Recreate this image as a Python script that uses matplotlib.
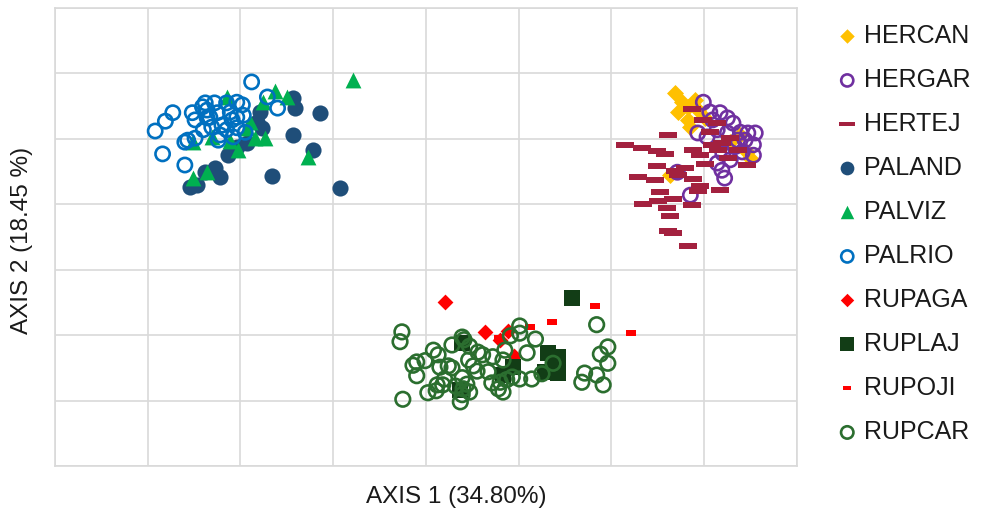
import numpy as np
import matplotlib
matplotlib.use("Agg")
import matplotlib.pyplot as plt
from matplotlib.path import Path

plt.rcParams['font.family'] = ['Liberation Sans', 'DejaVu Sans']

# PCoA coordinates (axis 1, axis 2)
hercan_x = [0.268, 0.276, 0.272, 0.282, 0.285, 0.282, 0.293, 0.301, 0.328, 0.346, 0.349, 0.339, 0.263, 0.290]
hercan_y = [0.170, 0.156, 0.141, 0.149, 0.118, 0.129, 0.144, 0.132, 0.095, 0.080, 0.071, 0.106, 0.045, 0.159]

hergar_x = [0.299, 0.306, 0.317, 0.325, 0.331, 0.293, 0.303, 0.314, 0.325, 0.339, 0.347, 0.355, 0.353,
            0.353, 0.341, 0.333, 0.320, 0.328, 0.314, 0.319, 0.322, 0.271, 0.285, 0.309, 0.344, 0.336]
hergar_y = [0.156, 0.141, 0.140, 0.132, 0.124, 0.109, 0.103, 0.114, 0.109, 0.110, 0.109, 0.109, 0.091,
            0.075, 0.080, 0.088, 0.078, 0.068, 0.063, 0.052, 0.040, 0.049, 0.014, 0.129, 0.098, 0.098]

hertej_x = [0.287, 0.299, 0.314, 0.306, 0.328, 0.261, 0.215, 0.233, 0.249, 0.258, 0.288, 0.295, 0.308,
            0.319, 0.326, 0.346, 0.301, 0.249, 0.268, 0.279, 0.229, 0.247, 0.272, 0.288, 0.295, 0.293,
            0.252, 0.317, 0.234, 0.250, 0.266, 0.260, 0.287, 0.263, 0.261, 0.266, 0.282, 0.315, 0.336]
hertej_y = [0.146, 0.129, 0.124, 0.110, 0.101, 0.106, 0.091, 0.086, 0.081, 0.077, 0.083, 0.075, 0.091,
            0.094, 0.071, 0.060, 0.062, 0.059, 0.051, 0.055, 0.042, 0.037, 0.045, 0.039, 0.028, 0.020,
            0.019, 0.022, 0.000, 0.005, 0.008, -0.006, -0.001, -0.018, -0.041, -0.044, -0.064, 0.083, 0.083]

paland_x = [-0.254, -0.247, -0.238, -0.228, -0.222, -0.213, -0.204, -0.193, -0.182, -0.179, -0.177,
            -0.143, -0.141, -0.114, -0.143, -0.122, -0.166, -0.093]
paland_y = [0.026, 0.029, 0.049, 0.055, 0.042, 0.075, 0.088, 0.094, 0.126, 0.141, 0.117,
            0.162, 0.147, 0.140, 0.106, 0.083, 0.043, 0.025]

palviz_x = [-0.251, -0.236, -0.251, -0.231, -0.211, -0.203, -0.190, -0.193, -0.184, -0.174, -0.215,
            -0.176, -0.163, -0.150, -0.079, -0.127]
palviz_y = [0.040, 0.049, 0.095, 0.103, 0.097, 0.083, 0.126, 0.117, 0.101, 0.101, 0.164,
            0.156, 0.173, 0.164, 0.190, 0.072]

palrio_x = [-0.188, -0.292, -0.281, -0.273, -0.284, -0.260, -0.252, -0.249, -0.238, -0.236, -0.228,
            -0.225, -0.233, -0.215, -0.204, -0.198, -0.211, -0.197, -0.171, -0.160, -0.260, -0.257,
            -0.249, -0.224, -0.222, -0.215, -0.204, -0.195, -0.208, -0.240, -0.231, -0.220, -0.236,
            -0.209, -0.204, -0.241]
palrio_y = [0.187, 0.112, 0.127, 0.140, 0.077, 0.060, 0.140, 0.129, 0.155, 0.144, 0.155,
            0.140, 0.133, 0.155, 0.156, 0.152, 0.141, 0.136, 0.164, 0.147, 0.095, 0.098,
            0.101, 0.098, 0.106, 0.114, 0.117, 0.110, 0.103, 0.114, 0.118, 0.121, 0.132,
            0.129, 0.133, 0.149]

rupaga_x = [0.020, 0.064, 0.088, 0.095, 0.080]
rupaga_y = [-0.149, -0.195, -0.194, -0.232, -0.207]

ruplaj_x = [0.157, 0.039, 0.132, 0.142, 0.128, 0.142, 0.094, 0.083, 0.037, 0.137]
ruplaj_y = [-0.143, -0.212, -0.227, -0.233, -0.256, -0.258, -0.249, -0.261, -0.284, -0.246]

rupoji_x = [0.182, 0.136, 0.112, 0.221, 0.079, 0.089]
rupoji_y = [-0.155, -0.180, -0.187, -0.197, -0.204, -0.195]

rupcar_x = [-0.026, -0.028, -0.010, -0.001, 0.008, 0.013, -0.010, 0.015, 0.028, 0.039, 0.047, 0.056,
            0.046, 0.051, 0.055, 0.039, 0.028, 0.020, 0.012, 0.002, 0.011, 0.018, 0.040, 0.047,
            0.039, 0.037, -0.025, 0.072, 0.083, 0.085, 0.071, 0.078, 0.083, 0.080, 0.087, 0.101,
            0.101, 0.118, 0.109, 0.101, 0.093, 0.114, 0.125, 0.137, 0.184, 0.196, 0.188, 0.196,
            0.171, 0.184, 0.168, 0.191, 0.041, 0.061, 0.024, -0.014, 0.067, 0.032, 0.044, 0.091]
rupcar_y = [-0.195, -0.210, -0.241, -0.239, -0.223, -0.230, -0.262, -0.249, -0.215, -0.203, -0.217, -0.226,
            -0.238, -0.247, -0.255, -0.265, -0.250, -0.267, -0.276, -0.288, -0.285, -0.276, -0.282, -0.287,
            -0.291, -0.302, -0.298, -0.233, -0.238, -0.223, -0.273, -0.282, -0.287, -0.272, -0.268, -0.186,
            -0.197, -0.206, -0.227, -0.267, -0.264, -0.267, -0.259, -0.243, -0.184, -0.218, -0.229, -0.243,
            -0.258, -0.261, -0.272, -0.276, -0.207, -0.230, -0.247, -0.246, -0.256, -0.278, -0.275, -0.201]

# wide bar marker for HERTEJ, short one for RUPOJI
long_bar = Path([(-1, -0.3), (1, -0.3), (1, 0.3), (-1, 0.3), (-1, -0.3)], closed=True)
short_bar = Path([(-1, -0.5), (1, -0.5), (1, 0.5), (-1, 0.5), (-1, -0.5)], closed=True)

series = [
    ("HERCAN", hercan_x, hercan_y, dict(marker="D", s=75, c="#FFC000", linewidths=0)),
    ("HERGAR", hergar_x, hergar_y, dict(marker="o", s=105, facecolors="none", edgecolors="#7030A0", linewidths=1.9)),
    ("HERTEJ", hertej_x, hertej_y, dict(marker=long_bar, s=175, c="#A3213F", linewidths=0)),
    ("PALAND", paland_x, paland_y, dict(marker="o", s=135, c="#1F4E79", linewidths=0)),
    ("PALVIZ", palviz_x, palviz_y, dict(marker="^", s=130, c="#00B050", linewidths=0)),
    ("PALRIO", palrio_x, palrio_y, dict(marker="o", s=105, facecolors="none", edgecolors="#0070C0", linewidths=1.9)),
    ("RUPAGA", rupaga_x, rupaga_y, dict(marker="D", s=65, c="#FF0000", linewidths=0)),
    ("RUPLAJ", ruplaj_x, ruplaj_y, dict(marker="s", s=125, c="#123D16", linewidths=0)),
    ("RUPOJI", rupoji_x, rupoji_y, dict(marker=short_bar, s=55, c="#FF0000", linewidths=0)),
    ("RUPCAR", rupcar_x, rupcar_y, dict(marker="o", s=110, facecolors="none", edgecolors="#2B6E2F", linewidths=1.9)),
]

fig = plt.figure(figsize=(9.84, 5.13), dpi=100)
ax = fig.add_axes([55 / 984, 47 / 513, 742 / 984, 458 / 513])

for i, (name, xs, ys, style) in enumerate(series):
    ax.scatter(xs, ys, label=name, zorder=3 + i, **style)

ax.set_xlim(-0.4, 0.4)
ax.set_ylim(-0.4, 0.3)
ax.set_xticks(np.arange(-0.4, 0.41, 0.1))
ax.set_yticks(np.arange(-0.4, 0.31, 0.1))
ax.tick_params(length=0, labelbottom=False, labelleft=False)
ax.grid(True, color="#D9D9D9", linewidth=1.2, zorder=0)
ax.set_axisbelow(True)
for sp in ax.spines.values():
    sp.set_color("#D9D9D9")
    sp.set_linewidth(1.2)

fig.text(456 / 984, 1 - 497 / 513, "AXIS 1 (34.80%)", ha="center", va="center", fontsize=17.5, color="#1A1A1A")
fig.text(22 / 984, 1 - 240 / 513, "AXIS 2 (18.45 %)", ha="center", va="center", rotation=90,
         fontsize=17.5, color="#1A1A1A")

leg = fig.legend(loc="upper left", bbox_to_anchor=(836 / 984, 1 - 24 / 513), frameon=False,
                 fontsize=18, markerscale=0.85, handlelength=0.9, handletextpad=0.2,
                 labelspacing=0.8, borderaxespad=0, borderpad=0)
for t in leg.get_texts():
    t.set_color("#1A1A1A")

fig.savefig("out.png", dpi=100)
